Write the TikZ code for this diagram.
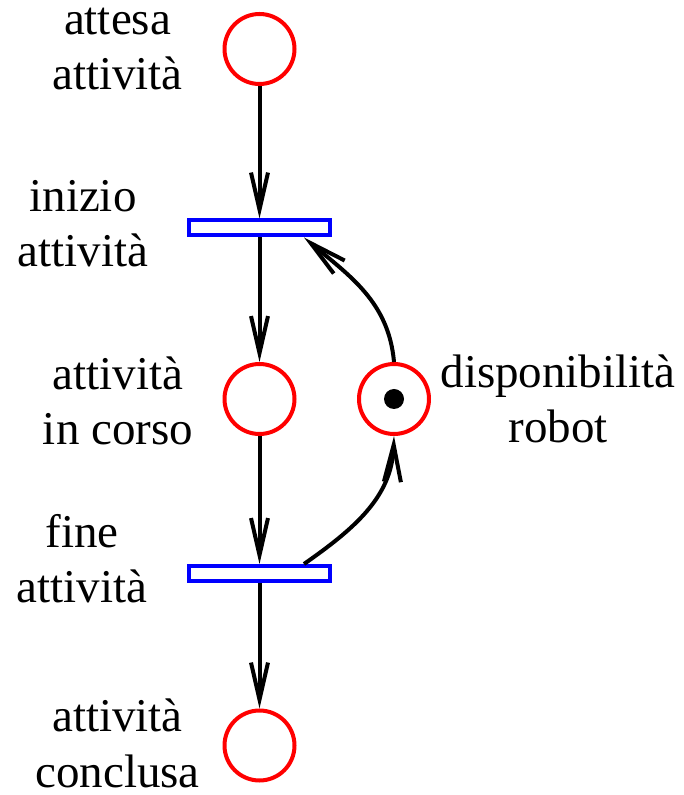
\documentclass[tikz,border=0pt]{standalone}
\usepackage{fontspec}
\setmainfont{Liberation Serif}
\usetikzlibrary{arrows.meta}
\begin{document}
\begin{tikzpicture}[x=1pt,y=1pt,
  place/.style={circle,draw=red,line width=4pt,minimum size=70pt,inner sep=0pt},
  trans/.style={rectangle,draw=blue,line width=4pt,minimum width=141pt,minimum height=15pt,inner sep=0pt},
  lbl/.style={align=center,anchor=base,inner sep=0pt,font=\fontsize{47}{55}\selectfont},
  arc/.style={line width=4pt,-{Straight Barb[length=37pt,width=17pt,line width=4pt]}}]
\useasboundingbox (0,0) rectangle (684,795);
\node[place] (p1) at (259.5,746) {};
\node[trans] (t1) at (259.5,567) {};
\node[place] (p2) at (259.5,396) {};
\node[place] (pr) at (394,396) {};
\node[trans] (t2) at (259.5,221.5) {};
\node[place] (p3) at (259.5,49.5) {};
\fill (pr.center) circle (10pt);
\node[lbl] (l1) at (117.5,705) {attesa\\attività};
\node[lbl] (l2) at (83,528) {inizio\\attività};
\node[lbl] (l3) at (118,350) {attività\\in corso};
\node[lbl] (l4) at (558,352) {disponibilità\\robot};
\node[lbl] (l5) at (82,192) {fine\\attività};
\node[lbl] (l6) at (117.5,8) {attività\\conclusa};
\draw[arc] (p1) -- (t1);
\draw[arc] (t1) -- (p2);
\draw[arc] (p2) -- (t2);
\draw[arc] (t2) -- (p3);
\draw[arc] (pr.north) to[out=95,in=-40] ([xshift=-28pt]t1.south east);
\draw[arc] ([xshift=-28pt]t2.north east) to[out=35,in=-92] (pr.south);
\end{tikzpicture}
\end{document}
